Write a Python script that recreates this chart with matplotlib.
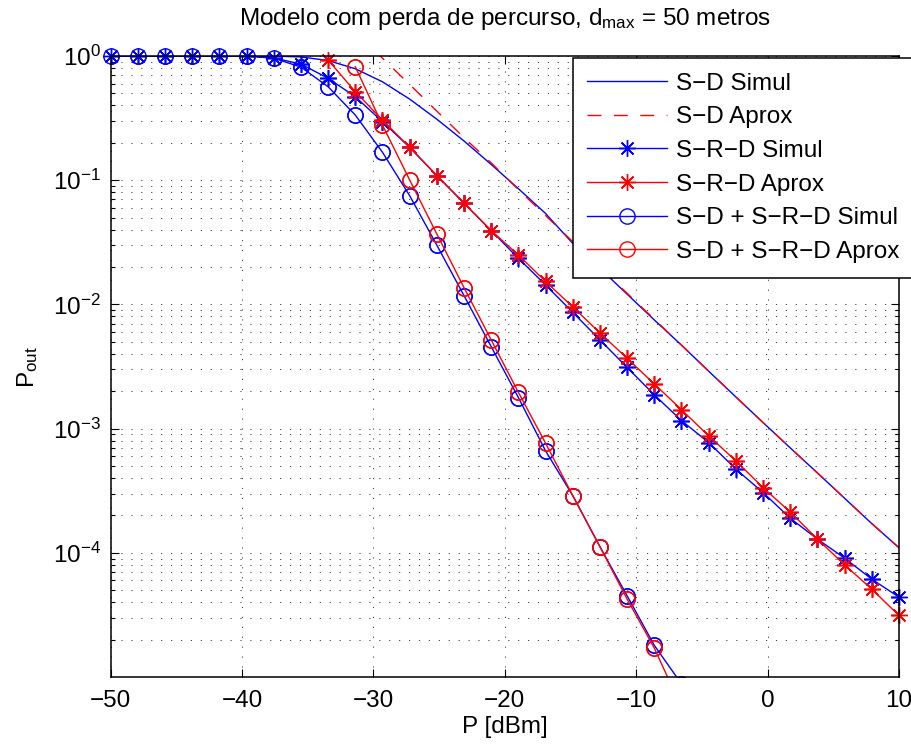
import numpy as np
import matplotlib.pyplot as plt
from matplotlib.ticker import LogLocator, NullFormatter, FixedLocator, LogFormatterMathtext

plt.rcParams['font.family'] = ['Liberation Sans', 'DejaVu Sans']
plt.rcParams['mathtext.fontset'] = 'custom'
plt.rcParams['mathtext.rm'] = 'Liberation Sans'
plt.rcParams['mathtext.it'] = 'Liberation Sans:italic'
plt.rcParams['mathtext.bf'] = 'Liberation Sans:bold'

# transmit power grid (dBm), 30 points
p_dbm = np.linspace(-50, 10, 30)
nan = np.nan

# outage probabilities
sd_simul = [1, 1, 1, 1, 1, 1, 0.998, 0.983, 0.92, 0.79, 0.62, 0.45, 0.31, 0.207,
            0.134, 0.0855, 0.054, 0.031, 0.0195, 0.0121, 0.0075, 0.0047, 0.0029,
            0.0018, 0.00112, 7.0e-4, 4.4e-4, 2.75e-4, 1.72e-4, 1.1e-4]
sd_aprox = [nan] * 9 + [1.56, 0.96, 0.59, 0.36, 0.22, 0.138, 0.084, 0.052, 0.032,
                        0.0198, 0.0123, 0.0076, 0.0047, 0.0029, 0.0018, 0.00112,
                        7.0e-4, 4.4e-4, 2.75e-4, 1.72e-4, 1.1e-4]
srd_simul = [1, 1, 1, 1, 1, 1, 0.964, 0.862, 0.662, 0.470, 0.296, 0.184, 0.109,
             0.0653, 0.0393, 0.0235, 0.01435, 0.00863, 0.00518, 0.00311, 0.00187,
             0.00116, 7.73e-4, 4.72e-4, 3.06e-4, 1.90e-4, 1.29e-4, 9.06e-5,
             6.14e-5, 4.40e-5]
srd_aprox = [nan] * 8 + [0.929, 0.516, 0.305, 0.184, 0.109, 0.0653, 0.0393, 0.0250,
                         0.0153, 0.00955, 0.0059, 0.00368, 0.00229, 0.00142,
                         8.75e-4, 5.50e-4, 3.35e-4, 2.13e-4, 1.29e-4, 8.0e-5,
                         5.1e-5, 3.13e-5]
comb_simul = [1, 1, 1, 1, 1, 1, 0.96, 0.815, 0.566, 0.335, 0.168, 0.0751, 0.0300,
              0.01177, 0.00457, 0.00178, 6.62e-4, 2.89e-4, 1.12e-4, 4.51e-5,
              1.80e-5, 8.8e-6] + [nan] * 8
comb_aprox = [nan] * 9 + [0.82, 0.278, 0.1005, 0.0369, 0.01365, 0.00518, 0.00196,
                          7.64e-4, 2.89e-4, 1.12e-4, 4.24e-5, 1.71e-5, 5.7e-6] + [nan] * 8

labels = ['S\u2212D Simul', 'S\u2212D Aprox', 'S\u2212R\u2212D Simul',
          'S\u2212R\u2212D Aprox', 'S\u2212D + S\u2212R\u2212D Simul',
          'S\u2212D + S\u2212R\u2212D Aprox']

fs = 17.5
ymin, ymax = 1e-5, 1.0
star = (8, 2, 0)

fig = plt.figure(figsize=(9.12, 7.44), dpi=100)
ax = fig.add_axes([0.1213, 0.0900, 0.8644, 0.8347])

series = [
    (sd_simul, dict(color='b', linestyle='-')),
    (sd_aprox, dict(color='r', linestyle=(0, (10, 9)))),
    (srd_simul, dict(color='b', linestyle='-', marker=star, markersize=12)),
    (srd_aprox, dict(color='r', linestyle='-', marker=star, markersize=12)),
    (comb_simul, dict(color='b', linestyle='-', marker='o', markersize=11, fillstyle='none')),
    (comb_aprox, dict(color='r', linestyle='-', marker='o', markersize=11, fillstyle='none')),
]

handles = []
for (vals, style), lab in zip(series, labels):
    vals = np.array(vals, dtype=float)
    h, = ax.plot(p_dbm, vals, linewidth=1.0, markeredgewidth=1.0, label=lab, **style)
    handles.append(h)
    if 'marker' in style:
        # markers on the axes edge are not clipped (as in MATLAB)
        inside = np.where(vals >= ymin, vals, np.nan)
        mstyle = dict(style)
        mstyle['linestyle'] = 'none'
        ax.plot(p_dbm, inside, markeredgewidth=1.0, clip_on=False, **mstyle)

ax.set_yscale('log')
ax.set_xlim(-50, 10)
ax.set_ylim(ymin, ymax)
ax.set_xticks(np.arange(-50, 11, 10))
ax.yaxis.set_major_locator(FixedLocator([1e-4, 1e-3, 1e-2, 1e-1, 1]))
ax.yaxis.set_major_formatter(LogFormatterMathtext())
ax.yaxis.set_minor_locator(LogLocator(base=10, subs=np.arange(2, 10)))
ax.yaxis.set_minor_formatter(NullFormatter())

ax.tick_params(which='both', direction='in', top=True, right=True, labelsize=fs)
ax.tick_params(which='major', length=6, width=0.8)
ax.tick_params(which='minor', length=3, width=0.8)
ax.tick_params(axis='x', pad=9)
ax.tick_params(axis='y', pad=7)
for sp in ax.spines.values():
    sp.set_linewidth(1.1)

grid_style = dict(color='0.25', linestyle=(0, (1.2, 9)), linewidth=0.7)
ax.grid(True, which='major', axis='both', **grid_style)
ax.grid(True, which='minor', axis='y', **grid_style)
ax.set_axisbelow(True)

ax.set_xlabel('P [dBm]', fontsize=fs, labelpad=3)
ax.set_ylabel(r'$\mathregular{P_{out}}$', fontsize=fs, labelpad=9)
ax.set_title(r'Modelo com perda de percurso, $\mathregular{d_{max}}$ = 50 metros',
             fontsize=fs, pad=22)

leg = ax.legend(handles=handles, loc='upper left',
                bbox_to_anchor=(572.7 / 912, 1 - 58 / 744),
                bbox_transform=fig.transFigure, fontsize=fs,
                frameon=True, fancybox=False, framealpha=1, edgecolor='k',
                borderaxespad=0, borderpad=0.6, handlelength=3.3,
                handletextpad=0.35, labelspacing=0.48)
leg.get_frame().set_linewidth(1.1)

fig.savefig('out.png', dpi=100)
